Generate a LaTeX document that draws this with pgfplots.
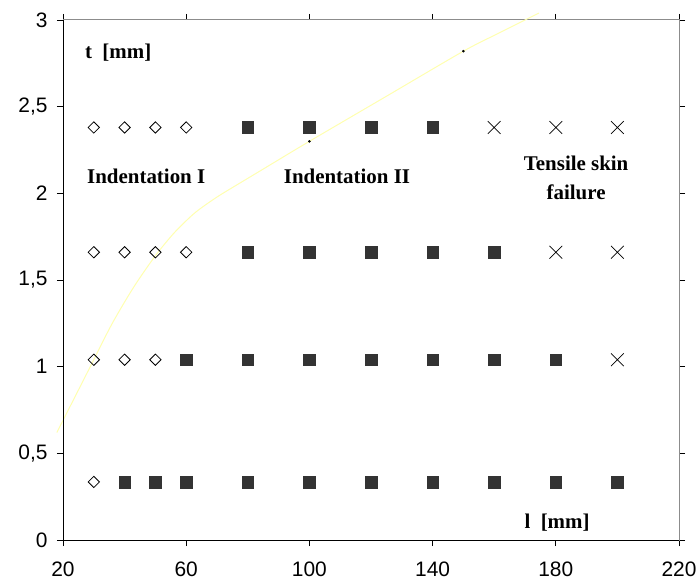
\documentclass[border=0pt]{standalone}
\usepackage{pgfplots}
\pgfplotsset{compat=1.18}
\usepackage{fontspec}
\setmainfont{Liberation Sans}
\newfontfamily\tnr{Liberation Serif}
\definecolor{sq}{RGB}{51,51,51}
\definecolor{curvecol}{RGB}{255,255,175}
\begin{document}
\begin{tikzpicture}
\begin{axis}[
 at={(0,0)}, anchor=south west,
 scale only axis, width=616bp, height=520bp,
 xmin=20, xmax=220, ymin=0, ymax=3,
 xtick={20,60,100,140,180,220},
 ytick={0,0.5,1,1.5,2,2.5,3},
 tick align=outside, major tick length=6bp,
 tick style={black, line width=0.8pt},
 axis line style={black!45, line width=1pt},
 /pgf/number format/assume math mode=true,
 /pgf/number format/use comma,
 ticklabel style={font=\fontsize{21}{25}\selectfont},
 xticklabel style={yshift=-12bp},
 yticklabel style={xshift=-6bp},
 clip=false,
]
\addplot[curvecol, line width=1pt, smooth, tension=0.5] coordinates {
 (18,0.62) (24,0.83) (30,1.04) (36,1.25) (43,1.46) (50,1.64) (56,1.77) (62,1.875) (66,1.93) (71,1.99) (77.5,2.06) (85,2.14) (100,2.30) (125,2.56) (150,2.82) (161,2.92) (174.5,3.04)};
\addplot[only marks, mark=*, mark size=1.1bp, black] coordinates {(100,2.30) (150,2.82)};
% diamonds
\addplot[only marks, mark=square, mark size=4bp, black, line width=0.8pt, mark options={rotate=45}] coordinates {
 (30,2.38) (40,2.38) (50,2.38) (60,2.38)
 (30,1.66) (40,1.66) (50,1.66) (60,1.66)
 (30,1.04) (40,1.04) (50,1.04)
 (30,0.335)};
% squares
\addplot[only marks, mark=square*, mark size=5.8bp, draw=sq, fill=sq, mark options={draw=sq, fill=sq, line width=0.4pt}] coordinates {
 (80,2.38) (100,2.38) (120,2.38) (140,2.38)
 (80,1.66) (100,1.66) (120,1.66) (140,1.66) (160,1.66)
 (60,1.04) (80,1.04) (100,1.04) (120,1.04) (140,1.04) (160,1.04) (180,1.04)
 (40,0.335) (50,0.335) (60,0.335) (80,0.335) (100,0.335) (120,0.335) (140,0.335) (160,0.335) (180,0.335) (200,0.335)};
% crosses
\addplot[only marks, mark=x, mark size=9bp, black, line width=0.7pt] coordinates {
 (160,2.38) (180,2.38) (200,2.38)
 (180,1.66) (200,1.66)
 (200,1.04)};
\draw[black, line width=1pt] (axis cs:20,3) -- (axis cs:20,0) -- (axis cs:220,0);
\begin{scope}[every node/.style={font=\tnr\bfseries\fontsize{21}{29}\selectfont, inner sep=0pt}]
\node[anchor=west] at (axis cs:27.1,2.81) {t\ \ [mm]};
\node[anchor=west] at (axis cs:27.8,2.096) {Indentation I};
\node at (axis cs:112.2,2.096) {Indentation II};
\node[align=center] at (axis cs:186.6,2.09) {Tensile skin\\failure};
\node at (axis cs:180.4,0.10) {l\ \ [mm]};
\end{scope}
\end{axis}
\pgfresetboundingbox
\path[use as bounding box] (-63bp,-44bp) rectangle (636bp,540bp);
\end{tikzpicture}
\end{document}
